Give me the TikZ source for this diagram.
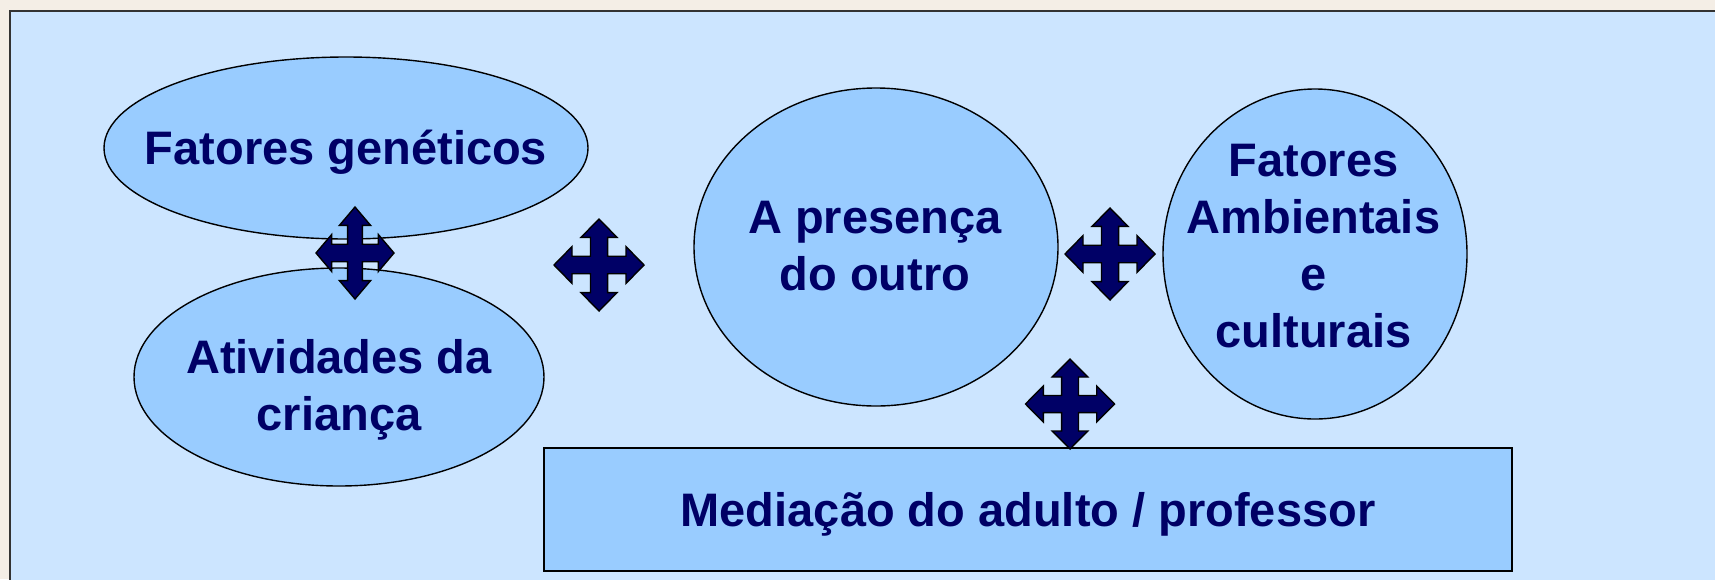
\documentclass[tikz,border=0pt]{standalone}
\usepackage{fontspec}
\setmainfont{Liberation Sans}
\usetikzlibrary{shapes.geometric}
\definecolor{paper}{RGB}{244,238,230}
\definecolor{panelblue}{RGB}{204,229,255}
\definecolor{bubbleblue}{RGB}{153,204,255}
\definecolor{inkblue}{RGB}{0,0,102}
\def\moveArrow(#1)(#2:#3){\draw[fill=inkblue, line width=1.4pt, line join=miter, shift={(#1)}, xscale=#2, yscale=#3] (0,-1) -- (0.4,-0.6) -- (0.19,-0.6) -- (0.19,-0.19) -- (0.6,-0.19) -- (0.6,-0.4) -- (1,0) -- (0.6,0.4) -- (0.6,0.19) -- (0.19,0.19) -- (0.19,0.6) -- (0.4,0.6) -- (0,1) -- (-0.4,0.6) -- (-0.19,0.6) -- (-0.19,0.19) -- (-0.6,0.19) -- (-0.6,0.4) -- (-1,0) -- (-0.6,-0.4) -- (-0.6,-0.19) -- (-0.19,-0.19) -- (-0.19,-0.6) -- (-0.4,-0.6) -- cycle;}
\tikzset{
	bubble/.style={ellipse, draw=black, line width=1.4pt, fill=bubbleblue, inner sep=0pt},
	bubbletext/.style={text=inkblue, font=\bfseries\fontsize{47}{57}\selectfont, align=center, inner sep=0pt},
}

\begin{document}
\begin{tikzpicture}[x=1pt, y=-1pt]
			%%%%% START %%%%%
			
			\useasboundingbox (0,0) rectangle (1715,579);
			\clip (0,0) rectangle (1715,579);
			\fill[paper] (0,0) rectangle (1715,579);
			\draw[fill=panelblue, draw=black!80, line width=2pt] (10,11) rectangle (1740,610);
			
			\node[bubble, minimum width=484pt, minimum height=182pt] (genetic) at (346,148) {};
			\node[bubble, minimum width=410pt, minimum height=218pt] (activity) at (339,377) {};
			\node[bubble, minimum width=364pt, minimum height=318pt] (presence) at (876,247) {};
			\node[bubble, minimum width=304pt, minimum height=330pt] (culture) at (1315,254) {};
			
			\node[bubbletext] (geneticText) at (346,152) {Fatores genéticos};
			\node[bubbletext] (activityText) at (339,389.5) {Atividades da\\criança};
			\node[bubbletext] (presenceText) at (875,246.5) {A presença\\do outro};
			\node[bubbletext] (cultureText) at (1313.5,246.5) {Fatores\\Ambientais\\e\\culturais};
			
			\node[draw=black, line width=2.5pt, fill=bubbleblue, minimum width=968pt, minimum height=123pt, inner sep=0pt, text=inkblue, font=\bfseries\fontsize{47}{57}\selectfont, text height=34pt, text depth=0pt] (mediation) at (1028,509.5) {Mediação do adulto / professor};
			
			\moveArrow(355,253)(39:46)
			\moveArrow(599,265)(45:46)
			\moveArrow(1110,254)(45:46)
			\moveArrow(1070,404)(44.5:45)
			
			%%%%% END %%%%%
\end{tikzpicture}
\end{document}
